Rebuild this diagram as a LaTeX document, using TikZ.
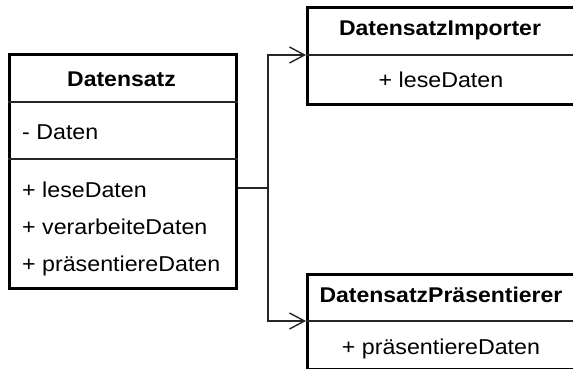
\documentclass[tikz,border=0pt]{standalone}
\usepackage{fontspec}
\setmainfont{Liberation Sans}[FakeStretch=1.08]
\usetikzlibrary{arrows.meta}
\begin{document}
\begin{tikzpicture}[x=1pt,y=-1pt,
  box/.style={draw=black,line width=2.6pt,inner sep=0pt,anchor=north west},
  divline/.style={draw=black!85,line width=1.4pt},
  conn/.style={draw=black!85,line width=1.4pt},
  barb/.style={-{Straight Barb[length=15pt,width=16pt,line width=1.4pt]}},
  title/.style={font=\fontsize{21.3}{24}\selectfont\bfseries,anchor=base,inner sep=0pt},
  member/.style={font=\fontsize{21.5}{24}\selectfont,anchor=base west,inner sep=0pt},
  cmember/.style={font=\fontsize{21.5}{24}\selectfont,anchor=base,inner sep=0pt}]
\useasboundingbox (0,0) rectangle (573,369);
\fill[white] (0,0) rectangle (573,369);
% Datensatz
\node[box,minimum width=227pt,minimum height=234pt] (ds) at (8,53) {};
\coordinate (dsd1) at (8,102);
\coordinate (dsd2) at (8,159);
\draw[divline] (dsd1) -- (dsd1 -| ds.east);
\draw[divline] (dsd2) -- (dsd2 -| ds.east);
\node[title] (dst) at (121.5,86) {Datensatz};
\node[member] (dsa) at (22,139) {- Daten};
\node[member] (dsm1) at (22,197) {+ leseDaten};
\node[member] (dsm2) at (22,234) {+ verarbeiteDaten};
\node[member] (dsm3) at (22,271) {+ präsentiereDaten};
% DatensatzImporter
\node[box,minimum width=270pt,minimum height=97pt] (imp) at (306,6) {};
\coordinate (impd) at (306,55);
\draw[divline] (impd) -- (impd -| imp.east);
\node[title] (impt) at (440,36) {DatensatzImporter};
\node[cmember] (impm) at (441,88) {+ leseDaten};
% DatensatzPraesentierer
\node[box,minimum width=270pt,minimum height=95pt] (pre) at (306,273) {};
\coordinate (pred) at (306,321);
\draw[divline] (pred) -- (pred -| pre.east);
\node[title] (pret) at (441,302) {DatensatzPräsentierer};
\node[cmember] (prem) at (441,354) {+ präsentiereDaten};
% connectors
\coordinate (j) at (268,188);
\draw[conn] (ds.east |- j) -- (j);
\draw[conn,barb] (j) |- (impd);
\draw[conn,barb] (j) |- (pred);
\end{tikzpicture}
\end{document}
